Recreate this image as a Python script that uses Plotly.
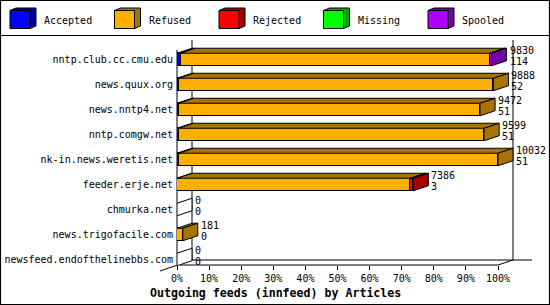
import plotly.graph_objects as go

# ---------------- data ----------------
FEEDS = ["nntp.club.cc.cmu.edu", "news.quux.org", "news.nntp4.net", "nntp.comgw.net",
         "nk-in.news.weretis.net", "feeder.erje.net", "chmurka.net", "news.trigofacile.com",
         "newsfeed.endofthelinebbs.com"]
SERIES = ["Accepted", "Refused", "Rejected", "Missing", "Spooled"]
ACCEPTED = [114, 52, 51, 51, 51, 3, 0, 0, 0]
REFUSED = [9656, 9836, 9421, 9548, 9981, 7293, 0, 181, 0]
REJECTED = [0, 0, 0, 0, 0, 90, 0, 0, 0]
MISSING = [0, 0, 0, 0, 0, 0, 0, 0, 0]
SPOOLED = [60, 0, 0, 0, 0, 0, 0, 0, 0]
TICK_VALUES = [0, 10, 20, 30, 40, 50, 60, 70, 80, 90, 100]
TICK_LABELS = ["0%", "10%", "20%", "30%", "40%", "50%", "60%", "70%", "80%", "90%", "100%"]
TITLE = "Outgoing feeds (innfeed) by Articles"

COLORS = ["#0000FF", "#FFAF00", "#FF0000", "#00FF00", "#AF00FF"]
DARK = ["#0000A8", "#A87400", "#A80000", "#00A800", "#7400A8"]

values = [ACCEPTED, REFUSED, REJECTED, MISSING, SPOOLED]
totals = [sum(v[i] for v in values) for i in range(len(FEEDS))]
scale_max = max(totals)
pct = [[v[i] / scale_max * 100 for i in range(len(FEEDS))] for v in values]

# ---------------- geometry (pixels) ----------------
W, H = 550, 305
L, R, T, B = 177, 5, 36, 40
PW = W - L - R          # plot width in px
PH = H - T - B          # plot height in px
PX100 = 321.0           # px for 100 %
XMAX = PW * 100 / PX100
ROW = 25.0              # px per category
Y_BOTTOM = 8 + (265 - 259.5) / ROW
Y_TOP = Y_BOTTOM - PH / ROW
DXD = 15 * 100 / PX100  # bar depth in x (data units)
DYD = 5 / ROW           # bar depth in y (data units)
HALF = 0.25             # half bar height (data units)

FONT = "DejaVu Sans Mono"

def xp(p):
    return (p - L) / PW

def yp(p):
    return (H - B - p) / PH

fig = go.Figure()
for s, name in enumerate(SERIES):
    fig.add_trace(go.Bar(
        x=pct[s], y=list(range(len(FEEDS))), orientation="h", name=name,
        width=2 * HALF, marker=dict(color=COLORS[s], line=dict(color="black", width=1)),
        showlegend=False, hoverinfo="skip"))

shapes = []
annotations = []

def pline(x0, y0, x1, y1):
    shapes.append(dict(type="line", xref="paper", yref="paper", x0=xp(x0), y0=yp(y0),
                       x1=xp(x1), y1=yp(y1), line=dict(color="black", width=1), layer="below"))

# frame / walls
shapes.append(dict(type="rect", xref="paper", yref="paper", x0=xp(0.5), y0=yp(0.5),
                   x1=xp(549.5), y1=yp(304.5), line=dict(color="black", width=1.2), layer="below"))
pline(0, 35.5, 550, 35.5)
pline(192, 40, 192, 260)
pline(513, 40, 513, 260)
pline(192, 260, 532, 260)
pline(177, 265, 498, 265)
pline(498, 265, 513, 260)
pline(160, 271, 192, 260)
pline(177, 50, 177, 265)

def path(pts):
    return "M " + " L ".join(f"{x},{y}" for x, y in pts) + " Z"

# 3D faces of bars
for i in range(len(FEEDS)):
    yt = i - HALF
    yb = i + HALF
    start = 0.0
    last = None
    for s in range(len(SERIES)):
        w = pct[s][i]
        if w <= 0:
            continue
        end = start + w
        shapes.append(dict(type="path", xref="x", yref="y", layer="above",
                           path=path([(start, yt), (end, yt), (end + DXD, yt - DYD), (start + DXD, yt - DYD)]),
                           fillcolor=DARK[s], line=dict(color="black", width=1)))
        last = s
        start = end
    fill = DARK[last] if last is not None else "white"
    shapes.append(dict(type="path", xref="x", yref="y", layer="above",
                       path=path([(start, yt), (start + DXD, yt - DYD), (start + DXD, yb - DYD), (start, yb)]),
                       fillcolor=fill, line=dict(color="black", width=1)))
    annotations.append(dict(x=start + DXD, y=i, xref="x", yref="y", text=str(totals[i]),
                            xanchor="left", yanchor="middle", showarrow=False, xshift=1, yshift=9,
                            font=dict(family=FONT, size=10, color="black")))
    annotations.append(dict(x=start + DXD, y=i, xref="x", yref="y", text=str(ACCEPTED[i]),
                            xanchor="left", yanchor="middle", showarrow=False, xshift=1, yshift=-2,
                            font=dict(family=FONT, size=10, color="black")))

# legend
for k, name in enumerate(SERIES):
    x0 = 10 + k * 104.5
    fx0, fx1, fy0, fy1 = x0, x0 + 20, 10.5, 28.5
    d, dy = 6, 2.5
    shapes.append(dict(type="path", xref="paper", yref="paper", layer="above",
                       path=path([(xp(fx0), yp(fy0)), (xp(fx0 + d), yp(fy0 - dy)), (xp(fx1 + d), yp(fy0 - dy)),
                                  (xp(fx1 + d), yp(fy1 - dy)), (xp(fx1), yp(fy1)), (xp(fx1), yp(fy0))]),
                       fillcolor=DARK[k], line=dict(color="black", width=1)))
    shapes.append(dict(type="rect", xref="paper", yref="paper", layer="above",
                       x0=xp(fx0), x1=xp(fx1), y0=yp(fy0), y1=yp(fy1),
                       fillcolor=COLORS[k], line=dict(color="black", width=1)))
    annotations.append(dict(x=xp(x0 + 32), y=yp(20), xref="paper", yref="paper", text=name,
                            xanchor="left", yanchor="middle", showarrow=False,
                            font=dict(family=FONT, size=10, color="black")))

annotations.append(dict(x=xp(275), y=yp(292.5), xref="paper", yref="paper", text=f"<b>{TITLE}</b>",
                        xanchor="center", yanchor="middle", showarrow=False,
                        font=dict(family=FONT, size=11.6, color="black")))

fig.update_layout(
    width=W, height=H, margin=dict(l=L, r=R, t=T, b=B),
    paper_bgcolor="white", plot_bgcolor="rgba(0,0,0,0)",
    barmode="stack", bargap=0, shapes=shapes, annotations=annotations,
    xaxis=dict(range=[0, XMAX], tickmode="array", tickvals=TICK_VALUES, ticktext=TICK_LABELS,
               ticks="outside", ticklen=4, tickcolor="black", tickwidth=1, showline=False,
               showgrid=False, zeroline=False, automargin=False, fixedrange=True,
               tickfont=dict(family=FONT, size=10, color="black")),
    yaxis=dict(range=[Y_BOTTOM, Y_TOP], tickmode="array", tickvals=list(range(len(FEEDS))),
               ticktext=FEEDS, ticks="", showline=False, showgrid=False, zeroline=False,
               automargin=False, fixedrange=True, ticklabelstandoff=3,
               tickfont=dict(family=FONT, size=10, color="black")),
    font=dict(family=FONT, size=10, color="black"),
)

fig.write_html("out.html")
